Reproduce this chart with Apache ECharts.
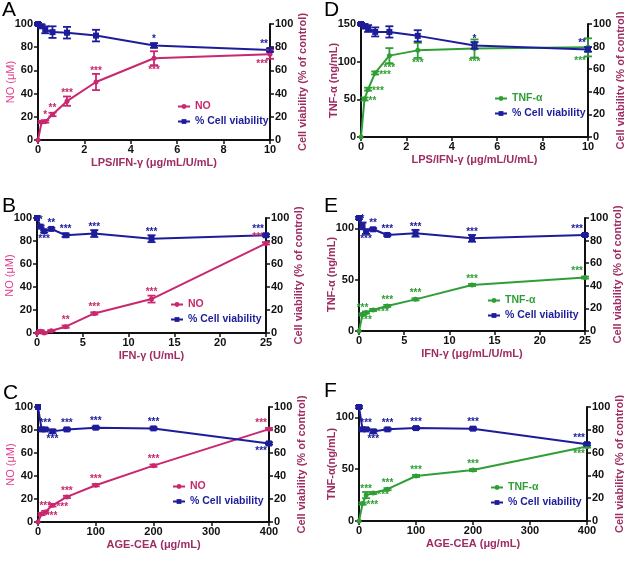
<!DOCTYPE html>
<html>
<head>
<meta charset="utf-8">
<title>NO / TNF-α and cell viability</title>
<script src="https://cdn.jsdelivr.net/npm/echarts@6/dist/echarts.min.js"></script>
<style>
html, body { margin: 0; padding: 0; background: #fff; }
#chart { width: 624px; height: 563px; }
</style>
</head>
<body>
<div id="chart"></div>
<script>
// doses
var xLps = [0, 0.156, 0.3125, 0.625, 1.25, 2.5, 5, 10];
var xIfn = [0, 0.39, 0.78, 1.56, 3.125, 6.25, 12.5, 25];
var xAge = [0, 6.25, 12.5, 25, 50, 100, 200, 400];

// A: NO + viability vs LPS/IFN-g
var noA = [0, 15.5, 16, 22, 33.5, 50, 70.5, 74];
var noAErr = [0, 1, 1, 1.5, 4, 7, 6, 4];
var vivA = [100, 98, 95, 93, 92.5, 90, 81.5, 77.5];
var vivAErr = [1, 1.5, 3, 5, 5, 5, 2, 1.5];
var starsNoA = ['', '', '*', '**', '***', '***', '***', '***'];
var sideNoA = ['', '', 't', 't', 't', 't', 'b', 'b'];
var starsVivA = ['', '', '', '', '', '', '*', '**'];
var sideVivA = ['', '', '', '', '', '', 't', 't'];

// B: NO + viability vs IFN-g
var noB = [0, 1.5, 0, 2, 5.5, 17, 29.5, 78];
var noBErr = [0, 1, 0.5, 0.5, 1, 1, 3, 1];
var vivB = [100, 92.5, 88.5, 90.5, 85, 86.5, 82, 85];
var vivBErr = [0, 1, 1, 1, 1.5, 3, 3, 1];
var starsNoB = ['', '', '', '', '**', '***', '***', '***'];
var sideNoB = ['', '', '', '', 't', 't', 't', 't'];
var starsVivB = ['', '*', '***', '**', '***', '***', '***', '***'];
var sideVivB = ['', 't', 'b', 't', 't', 't', 't', 't'];

// C: NO + viability vs AGE-CEA
var noC = [0, 7, 8.7, 14.5, 21.8, 32, 49, 80.8];
var noCErr = [0, 1, 1, 1, 1, 1, 1, 1];
var vivC = [100, 80.5, 80.5, 78.8, 80.5, 82, 81.4, 68.3];
var vivCErr = [0, 1, 1, 1.5, 1, 1, 1, 1];
var starsNoC = ['', '***', '***', '***', '***', '***', '***', '***'];
var sideNoC = ['', 'r', 't', 'r', 't', 't', 't', 't'];
var starsVivC = ['', '', '***', '***', '***', '***', '***', '***'];
var sideVivC = ['', '', 't', 'b', 't', 't', 't', 'b'];

// D: TNF-a + viability vs LPS/IFN-g
var tnfD = [0, 50.5, 63.5, 85, 108, 115, 117.5, 119];
var tnfDErr = [0, 2, 2, 2, 10, 10, 12, 12];
var vivD = [100, 98, 96, 93, 93, 89.5, 81, 77.5];
var vivDErr = [1, 2, 3, 4, 5, 5, 3, 2];
var starsTnfD = ['', '**', '***', '***', '***', '***', '***', '***'];
var sideTnfD = ['', 'r', 'r', 'r', 'b', 'b', 'b', 'b'];
var starsVivD = ['', '', '', '', '', '', '*', '**'];
var sideVivD = ['', '', '', '', '', '', 't', 't'];

// E: TNF-a + viability vs IFN-g
var tnfE = [0, 16.2, 18, 20.5, 24.4, 30.8, 44.8, 52];
var tnfEErr = [0, 1, 1, 1, 1, 1, 1, 1];
var vivE = [100, 93, 88, 90, 85, 86.5, 82, 85];
var vivEErr = [1, 3, 2, 1, 1, 3, 3, 1];
var starsTnfE = ['', '***', '***', '***', '***', '***', '***', '***'];
var sideTnfE = ['', 't', 'b', 'r', 't', 't', 't', 't'];
var starsVivE = ['', '*', '***', '**', '***', '***', '***', '***'];
var sideVivE = ['', 't', 'b', 't', 't', 't', 't', 't'];

// F: TNF-a + viability vs AGE-CEA
var tnfF = [0, 16.8, 25, 27, 30.7, 43.4, 49.2, 71.8];
var tnfFErr = [0, 1, 3, 1, 1, 1, 1, 1];
var vivF = [100, 80.4, 80.4, 78.6, 80.4, 81.5, 81, 67.4];
var vivFErr = [1, 1, 1, 1.5, 1, 1, 1, 1];
var starsTnfF = ['', '***', '***', '***', '***', '***', '***', '***'];
var sideTnfF = ['', 'r', 't', 'r', 't', 't', 't', 'b'];
var starsVivF = ['', '', '***', '***', '***', '***', '***', '***'];
var sideVivF = ['', '', 't', 'b', 't', 't', 't', 't'];

var ticksPct = [0, 20, 40, 60, 80, 100];
var ticksTnf50 = [0, 50, 100];
var ticksTnf150 = [0, 50, 100, 150];

var MAG = '#c9276f', BLUE = '#1d1d9b', GREEN = '#2f9f35';
var NAMECOL = '#9e2d63', PINK = '#e23a8c';
var FONT = '"Liberation Sans", Arial, sans-serif';

var panels = [
    {letter: 'A', lx: 2, ly: 0, grid: {left: 38, top: 24, width: 232, height: 116},
     x: xLps, xMax: 10, xStep: 2, xName: 'LPS/IFN-γ (μg/mL/U/mL)',
     yMax: 100, yStep: 20, yTicks: ticksPct, yName: 'NO (μM)', yNameColor: PINK,
     mName: 'NO', mColor: MAG, m: noA, mErr: noAErr, mStars: starsNoA, mSide: sideNoA,
     v: vivA, vErr: vivAErr, vStars: starsVivA, vSide: sideVivA, leg: [177, 101]},
    {letter: 'D', lx: 324, ly: 0, grid: {left: 361, top: 24, width: 227, height: 113},
     x: xLps, xMax: 10, xStep: 2, xName: 'LPS/IFN-γ (μg/mL/U/mL)',
     yMax: 150, yStep: 50, yTicks: ticksTnf150, yName: 'TNF-α (ng/mL)', yNameColor: NAMECOL,
     mName: 'TNF-α', mColor: GREEN, m: tnfD, mErr: tnfDErr, mStars: starsTnfD, mSide: sideTnfD,
     v: vivD, vErr: vivDErr, vStars: starsVivD, vSide: sideVivD, leg: [494, 93]},
    {letter: 'B', lx: 2, ly: 196, grid: {left: 37, top: 218, width: 229, height: 115},
     x: xIfn, xMax: 25, xStep: 5, xName: 'IFN-γ (U/mL)',
     yMax: 100, yStep: 20, yTicks: ticksPct, yName: 'NO (μM)', yNameColor: PINK,
     mName: 'NO', mColor: MAG, m: noB, mErr: noBErr, mStars: starsNoB, mSide: sideNoB,
     v: vivB, vErr: vivBErr, vStars: starsVivB, vSide: sideVivB, leg: [170, 299]},
    {letter: 'E', lx: 324, ly: 196, grid: {left: 359, top: 218, width: 226, height: 113},
     x: xIfn, xMax: 25, xStep: 5, xName: 'IFN-γ (μg/mL/U/mL)',
     yMax: 110, yStep: 50, yTicks: ticksTnf50, yName: 'TNF-α (ng/mL)', yNameColor: NAMECOL,
     mName: 'TNF-α', mColor: GREEN, m: tnfE, mErr: tnfEErr, mStars: starsTnfE, mSide: sideTnfE,
     v: vivE, vErr: vivEErr, vStars: starsVivE, vSide: sideVivE, leg: [487, 295]},
    {letter: 'C', lx: 3, ly: 383, grid: {left: 38, top: 407, width: 231, height: 115},
     x: xAge, xMax: 400, xStep: 100, xName: 'AGE-CEA (μg/mL)',
     yMax: 100, yStep: 20, yTicks: ticksPct, yName: 'NO (μM)', yNameColor: PINK,
     mName: 'NO', mColor: MAG, m: noC, mErr: noCErr, mStars: starsNoC, mSide: sideNoC,
     v: vivC, vErr: vivCErr, vStars: starsVivC, vSide: sideVivC, leg: [172, 481]},
    {letter: 'F', lx: 324, ly: 381, grid: {left: 359, top: 407, width: 228, height: 114},
     x: xAge, xMax: 400, xStep: 100, xName: 'AGE-CEA (μg/mL)',
     yMax: 110, yStep: 50, yTicks: ticksTnf50, yName: 'TNF-α(ng/mL)', yNameColor: NAMECOL,
     mName: 'TNF-α', mColor: GREEN, m: tnfF, mErr: tnfFErr, mStars: starsTnfF, mSide: sideTnfF,
     v: vivF, vErr: vivFErr, vStars: starsVivF, vSide: sideVivF, leg: [490, 482]}
];

function zip(xs, ys) {
    return xs.map(function (x, k) { return [x, ys[k]]; });
}

// error bars + significance stars, placed through the axis scales
function errSeries(xs, ys, errs, stars, sides, color, xi, yi) {
    var data = xs.map(function (x, k) { return [x, ys[k], errs[k], k]; });
    var last = xs.length - 1;
    return {
        type: 'custom', xAxisIndex: xi, yAxisIndex: yi, silent: true, z: 5, clip: false,
        encode: {x: 0, y: 1},
        data: data,
        renderItem: function (params, api) {
            var x = api.value(0), y = api.value(1), e = api.value(2), k = api.value(3);
            var c = api.coord([x, y]);
            var hi = api.coord([x, y + e]);
            var lo = api.coord([x, y - e]);
            var kids = [];
            var st = {stroke: color, lineWidth: 1.8};
            if (e > 0) {
                kids.push({type: 'line', shape: {x1: c[0], y1: hi[1], x2: c[0], y2: lo[1]}, style: st});
                kids.push({type: 'line', shape: {x1: c[0] - 4, y1: hi[1], x2: c[0] + 4, y2: hi[1]}, style: st});
                kids.push({type: 'line', shape: {x1: c[0] - 4, y1: lo[1], x2: c[0] + 4, y2: lo[1]}, style: st});
            }
            var s = stars[k];
            if (s) {
                var side = sides[k];
                var up = Math.max(c[1] - hi[1], 3), dn = Math.max(lo[1] - c[1], 3);
                var tx = c[0], ty, al = 'center';
                if (side === 't') ty = c[1] - up - 3;
                else if (side === 'b') ty = c[1] + dn + 5;
                else { tx = c[0] + 4; ty = c[1] + 2; al = 'left'; }
                if (k === last && side !== 'r') { tx = c[0] - 2; al = 'right'; }
                kids.push({type: 'text', style: {
                    text: s, x: tx, y: ty, fill: color,
                    font: 'bold 10px ' + FONT,
                    align: al, verticalAlign: 'middle',
                    textAlign: al, textVerticalAlign: 'middle'
                }});
            }
            return {type: 'group', children: kids};
        }
    };
}

var chart = echarts.init(document.getElementById('chart'));
var option = {
    animation: false,
    backgroundColor: '#fff',
    grid: [], xAxis: [], yAxis: [], series: [], legend: [], graphic: []
};

var axisLine = {show: true, onZero: false, lineStyle: {color: '#111', width: 2}};
var axisTick = {show: true, length: 4, lineStyle: {color: '#111', width: 1.5}};
var tickLab = {color: '#111', fontWeight: 'bold', fontSize: 11, fontFamily: FONT};

panels.forEach(function (p, i) {
    var g = p.grid;
    option.grid.push({left: g.left, top: g.top, width: g.width, height: g.height,
        containLabel: false, outerBoundsMode: 'none'});

    option.xAxis.push({
        type: 'value', gridIndex: i, min: 0, max: p.xMax, interval: p.xStep,
        name: p.xName, nameLocation: 'middle', nameGap: 17, nameMoveOverlap: false,
        nameTextStyle: {color: NAMECOL, fontWeight: 'bold', fontSize: 11, fontFamily: FONT},
        axisLine: axisLine, axisTick: axisTick,
        axisLabel: Object.assign({margin: 4}, tickLab),
        splitLine: {show: false}
    });

    option.yAxis.push({
        type: 'value', gridIndex: i, position: 'left', min: 0, max: p.yMax, interval: p.yStep,
        name: p.yName, nameLocation: 'middle', nameGap: 22, nameRotate: 90, nameMoveOverlap: false,
        nameTextStyle: {color: p.yNameColor, fontWeight: p.yNameColor === PINK ? 'normal' : 'bold',
            fontSize: 11, fontFamily: FONT},
        axisLine: axisLine,
        axisTick: Object.assign({customValues: p.yTicks}, axisTick),
        axisLabel: Object.assign({margin: 5, customValues: p.yTicks}, tickLab),
        splitLine: {show: false}
    });
    option.yAxis.push({
        type: 'value', gridIndex: i, position: 'right', min: 0, max: 100, interval: 20,
        name: 'Cell viability (% of control)', nameLocation: 'middle', nameGap: 27, nameRotate: 90,
        nameMoveOverlap: false,
        nameTextStyle: {color: NAMECOL, fontWeight: 'bold', fontSize: 11, fontFamily: FONT},
        axisLine: axisLine, axisTick: axisTick,
        axisLabel: Object.assign({margin: 5}, tickLab),
        splitLine: {show: false}
    });

    var yl = 2 * i, yr = 2 * i + 1;
    option.series.push({
        name: p.mName, type: 'line', xAxisIndex: i, yAxisIndex: yl, data: zip(p.x, p.m),
        symbol: 'circle', symbolSize: 5, clip: false, z: 4,
        lineStyle: {color: p.mColor, width: 2}, itemStyle: {color: p.mColor}
    });
    option.series.push({
        name: '% Cell viability', type: 'line', xAxisIndex: i, yAxisIndex: yr, data: zip(p.x, p.v),
        symbol: 'rect', symbolSize: 6, clip: false, z: 4,
        lineStyle: {color: BLUE, width: 2}, itemStyle: {color: BLUE}
    });
    option.series.push(errSeries(p.x, p.m, p.mErr, p.mStars, p.mSide, p.mColor, i, yl));
    option.series.push(errSeries(p.x, p.v, p.vErr, p.vStars, p.vSide, BLUE, i, yr));

    option.legend.push({
        orient: 'vertical', left: p.leg[0], top: p.leg[1], padding: 0,
        itemWidth: 12, itemHeight: 6, itemGap: 4, selectedMode: false,
        textStyle: {fontWeight: 'bold', fontSize: 10.5, fontFamily: FONT},
        data: [
            {name: p.mName, textStyle: {color: p.mColor}},
            {name: '% Cell viability', textStyle: {color: BLUE}}
        ]
    });

    option.graphic.push({
        type: 'text', left: p.lx, top: p.ly,
        style: {text: p.letter, fill: '#000', font: '21px ' + FONT}
    });
});

chart.setOption(option);
</script>
</body>
</html>
